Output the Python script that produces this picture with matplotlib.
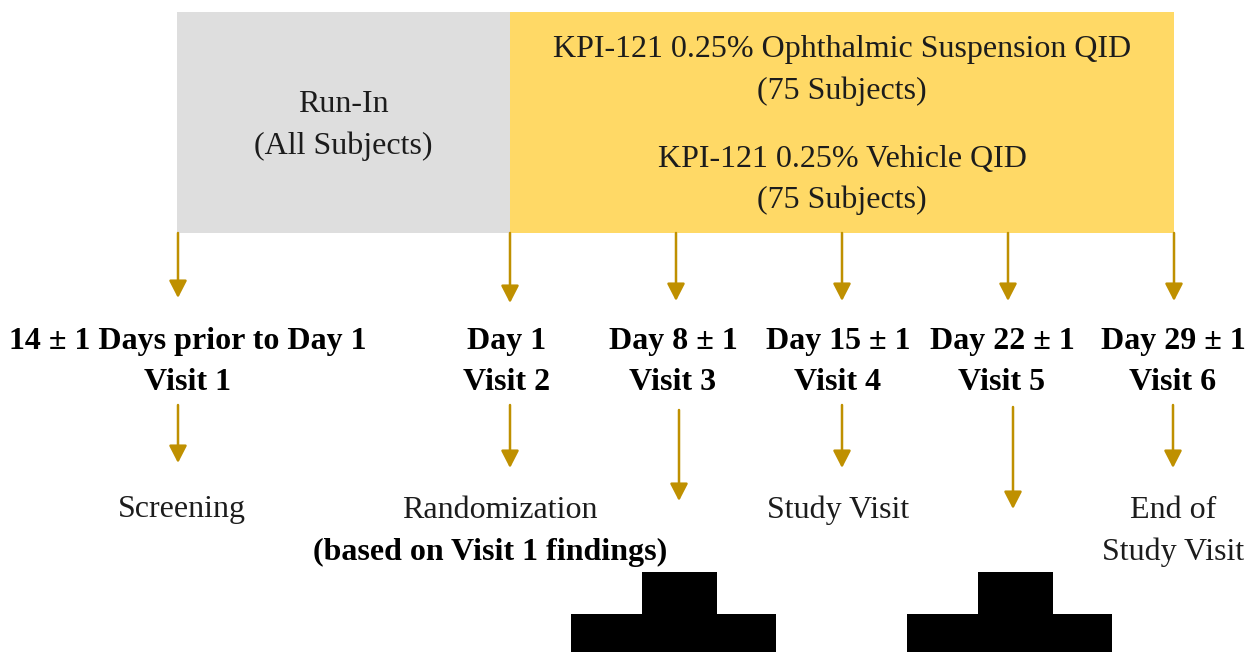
import matplotlib
matplotlib.use("Agg")
import matplotlib.pyplot as plt
from matplotlib.patches import Rectangle, Polygon

# ---- content ----
runin_lines = ["Run-In", "(All Subjects)"]
treat_lines = ["KPI-121 0.25% Ophthalmic Suspension QID", "(75 Subjects)",
               "KPI-121 0.25% Vehicle QID", "(75 Subjects)"]
visit_days = ["14 \u00b1 1 Days prior to Day 1", "Day 1", "Day 8 \u00b1 1",
              "Day 15 \u00b1 1", "Day 22 \u00b1 1", "Day 29 \u00b1 1"]
visit_names = ["Visit 1", "Visit 2", "Visit 3", "Visit 4", "Visit 5", "Visit 6"]
visit_desc = ["Screening", "Randomization", "", "Study Visit", "", "End of\nStudy Visit"]
visit_desc_bold = ["", "(based on Visit 1 findings)", "", "", "", ""]

# ---- layout (pixel coordinates) ----
W, H = 1249, 652
fig = plt.figure(figsize=(W / 100, H / 100), dpi=100)
ax = fig.add_axes([0, 0, 1, 1])
ax.set_xlim(0, W)
ax.set_ylim(H, 0)
ax.axis("off")

FONT = "Liberation Serif"
FS = 23
ARROW = "#BF9000"
GRAY = "#DEDEDE"
YELLOW = "#FFD966"
TXT = "#1c1c1c"
DY = 3

box_top, box_bot = 12, 233
ax.add_patch(Rectangle((177, box_top), 510 - 177, box_bot - box_top, facecolor=GRAY, edgecolor="none"))
ax.add_patch(Rectangle((510, box_top), 1174 - 510, box_bot - box_top, facecolor=YELLOW, edgecolor="none"))

for ln, y in zip(runin_lines, [101, 143]):
    ax.text(343, y + DY, ln, ha="center", va="center", fontsize=FS, family=FONT, color=TXT)
for ln, y in zip(treat_lines, [46, 88, 157, 197]):
    ax.text(842, y + DY, ln, ha="center", va="center", fontsize=FS, family=FONT, color=TXT)

def arrow(x, y0, y1):
    ax.annotate("", xy=(x, y1), xytext=(x, y0),
                arrowprops=dict(arrowstyle="-|>,head_length=0.7,head_width=0.36",
                                color=ARROW, lw=1.8, mutation_scale=15,
                                shrinkA=0, shrinkB=0))

top_x = [178, 510, 676, 842, 1008, 1174]
top_tip = [298, 303, 301, 301, 301, 301]
for x, t in zip(top_x, top_tip):
    arrow(x, box_bot, t)

head_x = [188, 507, 673, 838, 1002, 1173]
for x, d, v in zip(head_x, visit_days, visit_names):
    ax.text(x, 338 + DY, d, ha="center", va="center", fontsize=FS, family=FONT,
            fontweight="bold", color="black")
    ax.text(x, 380 + DY, v, ha="center", va="center", fontsize=FS, family=FONT,
            fontweight="bold", color="black")

low_x = [178, 510, 679, 842, 1013, 1173]
low_start = [405, 405, 410, 405, 407, 405]
low_tip = [463, 468, 501, 468, 509, 468]
for x, s, t in zip(low_x, low_start, low_tip):
    arrow(x, s, t)

desc_x = [182, 500, 679, 838, 1013, 1173]
for x, d, b in zip(desc_x, visit_desc, visit_desc_bold):
    if d:
        for i, ln in enumerate(d.split("\n")):
            ax.text(x, 507 + DY + 42 * i, ln, ha="center", va="center", fontsize=FS,
                    family=FONT, color=TXT)
    if b:
        ax.text(490, 549 + DY, b, ha="center", va="center", fontsize=FS, family=FONT,
                fontweight="bold", color="black")

# black step shapes at the bottom
for cx in (673, 1009):
    pts = [(cx - 102, H), (cx - 102, 614), (cx - 31, 614), (cx - 31, 572),
           (cx + 44, 572), (cx + 44, 614), (cx + 103, 614), (cx + 103, H)]
    ax.add_patch(Polygon(pts, closed=True, facecolor="black", edgecolor="none"))

fig.savefig("out.png", dpi=100, facecolor="white")
